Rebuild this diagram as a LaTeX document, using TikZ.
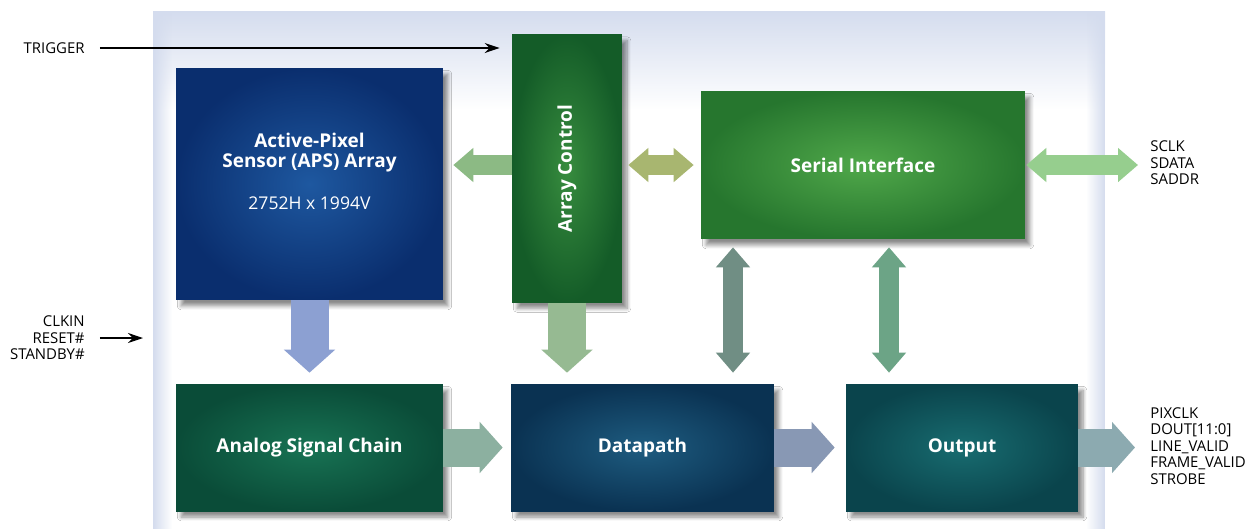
\documentclass[tikz,border=0pt]{standalone}
\usepackage{fontspec}
\setmainfont{Open Sans}
\usepackage{tikz}
\usetikzlibrary{arrows.meta}
\usetikzlibrary{shadows}
\usetikzlibrary{shadows.blur}
\usetikzlibrary{fadings}
\usetikzlibrary{calc}

\definecolor{panelblue}{RGB}{212,220,238}
\definecolor{apsin}{RGB}{30,88,160}
\definecolor{apsout}{RGB}{10,46,110}
\definecolor{ctrlin}{RGB}{55,140,62}
\definecolor{ctrlout}{RGB}{20,92,40}
\definecolor{serin}{RGB}{80,168,74}
\definecolor{serout}{RGB}{38,118,46}
\definecolor{anain}{RGB}{24,115,84}
\definecolor{anaout}{RGB}{10,76,56}
\definecolor{dpin}{RGB}{30,92,128}
\definecolor{dpout}{RGB}{10,50,82}
\definecolor{outin}{RGB}{24,108,112}
\definecolor{outout}{RGB}{10,68,76}
\definecolor{arrA}{RGB}{140,186,132}
\definecolor{arrB}{RGB}{168,182,112}
\definecolor{arrC}{RGB}{150,206,142}
\definecolor{arrD}{RGB}{140,160,210}
\definecolor{arrE}{RGB}{150,186,146}
\definecolor{arrF}{RGB}{112,142,132}
\definecolor{arrG}{RGB}{108,164,134}
\definecolor{arrH}{RGB}{140,176,160}
\definecolor{arrI}{RGB}{136,152,180}
\definecolor{arrJ}{RGB}{140,170,176}

\tikzfading[name=fadeleft, left color=transparent!0, right color=transparent!100]
\tikzfading[name=faderight, left color=transparent!100, right color=transparent!0]

\begin{document}
\begin{tikzpicture}[x=0.02cm, y=-0.02cm]
		\tikzstyle{box}=[rectangle, inner sep=0pt, text=white, align=center, font=\bfseries\fontsize{10.8}{11.4}\selectfont, blur shadow={shadow xshift=0.1cm, shadow yshift=-0.12cm, shadow blur steps=8, shadow opacity=45}]
		\tikzstyle{pin}=[inner sep=0pt, font=\fontsize{8.5}{9.4}\selectfont]
		\tikzstyle{sig}=[draw=black, line width=0.7pt, -{Stealth[length=0.3cm, width=0.2cm]}]
		\tikzstyle{fat}=[line width=0.76cm, -{Triangle[length=0.46cm, width=1cm]}]
		\tikzstyle{slim}=[line width=0.4cm, -{Triangle[length=0.4cm, width=0.66cm]}]
		\tikzstyle{slimboth}=[line width=0.4cm, {Triangle[length=0.4cm, width=0.66cm]}-{Triangle[length=0.4cm, width=0.66cm]}]

		\useasboundingbox (0,0) rectangle (1260,529);

		% Draw panel
		\fill[white] (153,11) rectangle (1105,529);
		\shade[top color=panelblue, bottom color=white] (153,11) rectangle (1105,110);
		\fill[panelblue, path fading=fadeleft] (153,11) rectangle (172,529);
		\fill[panelblue, path fading=faderight] (1086,11) rectangle (1105,529);

		% Draw blocks
		\node[box, inner color=apsin, outer color=apsout, minimum width=5.34cm, minimum height=4.64cm] (aps) at (309.5,184) {Active-Pixel\\Sensor (APS) Array\\[12pt]{\mdseries\fontsize{10}{10}\selectfont 2752H x 1994V}\\[0.11cm]\mbox{}};
		\node[box, inner color=ctrlin, outer color=ctrlout, minimum width=2.2cm, minimum height=5.36cm] (ctrl) at (567,168.5) {\rotatebox{90}{Array Control}};
		\node[box, inner color=serin, outer color=serout, minimum width=6.48cm, minimum height=2.96cm] (serial) at (863,165) {Serial Interface};
		\node[box, inner color=anain, outer color=anaout, minimum width=5.34cm, minimum height=2.54cm] (analog) at (309.5,447.5) {Analog Signal Chain};
		\node[box, inner color=dpin, outer color=dpout, minimum width=5.26cm, minimum height=2.54cm] (datapath) at (642.5,447.5) {Datapath};
		\node[box, inner color=outin, outer color=outout, minimum width=4.64cm, minimum height=2.54cm] (output) at (962,447.5) {Output};

		% Draw pin labels
		\node[pin, anchor=east] (trigger) at (85,48) {TRIGGER};
		\node[pin, anchor=east, align=right] (clkin) at (85,338) {CLKIN\\RESET\#\\STANDBY\#};
		\node[pin, anchor=west, align=left] (sclk) at (1150,163) {SCLK\\SDATA\\SADDR};
		\node[pin, anchor=west, align=left] (pixclk) at (1150,446) {PIXCLK\\DOUT[11:0]\\LINE\_VALID\\FRAME\_VALID\\STROBE};
		\coordinate (clkend) at (143,338);

		% Draw arrows
		\draw[sig, shorten <=0.3cm, shorten >=0.24cm] (trigger.east) -- (trigger.east -| ctrl.west);
		\draw[sig, shorten <=0.3cm] (clkin.east) -- (clkend);
		\draw[slim, arrA] (ctrl.west |- serial.west) -- ($(aps.east |- serial.west)+(10,0)$);
		\draw[slimboth, arrB] ($(ctrl.east |- serial.west)+(6,0)$) -- ($(serial.west)+(-7,0)$);
		\draw[slimboth, arrC] ($(serial.east)+(1,0)$) -- ($(serial.east -| sclk.west)+(-12,0)$);
		\draw[fat, arrD] (aps.south) -- ($(analog.north)+(0,-11)$);
		\draw[fat, arrE] (ctrl.south) -- ($(ctrl.south |- datapath.north)+(0,-11)$);
		\draw[slimboth, arrF] ($(serial.south)+(-130,8)$) -- ($(serial.south |- datapath.north)+(-130,-11)$);
		\draw[slimboth, arrG] ($(serial.south)+(26,8)$) -- ($(serial.south |- output.north)+(26,-11)$);
		\draw[fat, arrH] (analog.east) -- ($(datapath.west)+(-8,0)$);
		\draw[fat, arrI] (datapath.east) -- ($(output.west)+(-11,0)$);
		\draw[fat, arrJ] (output.east) -- ($(output.east -| pixclk.west)+(-15,0)$);

\end{tikzpicture}
\end{document}
